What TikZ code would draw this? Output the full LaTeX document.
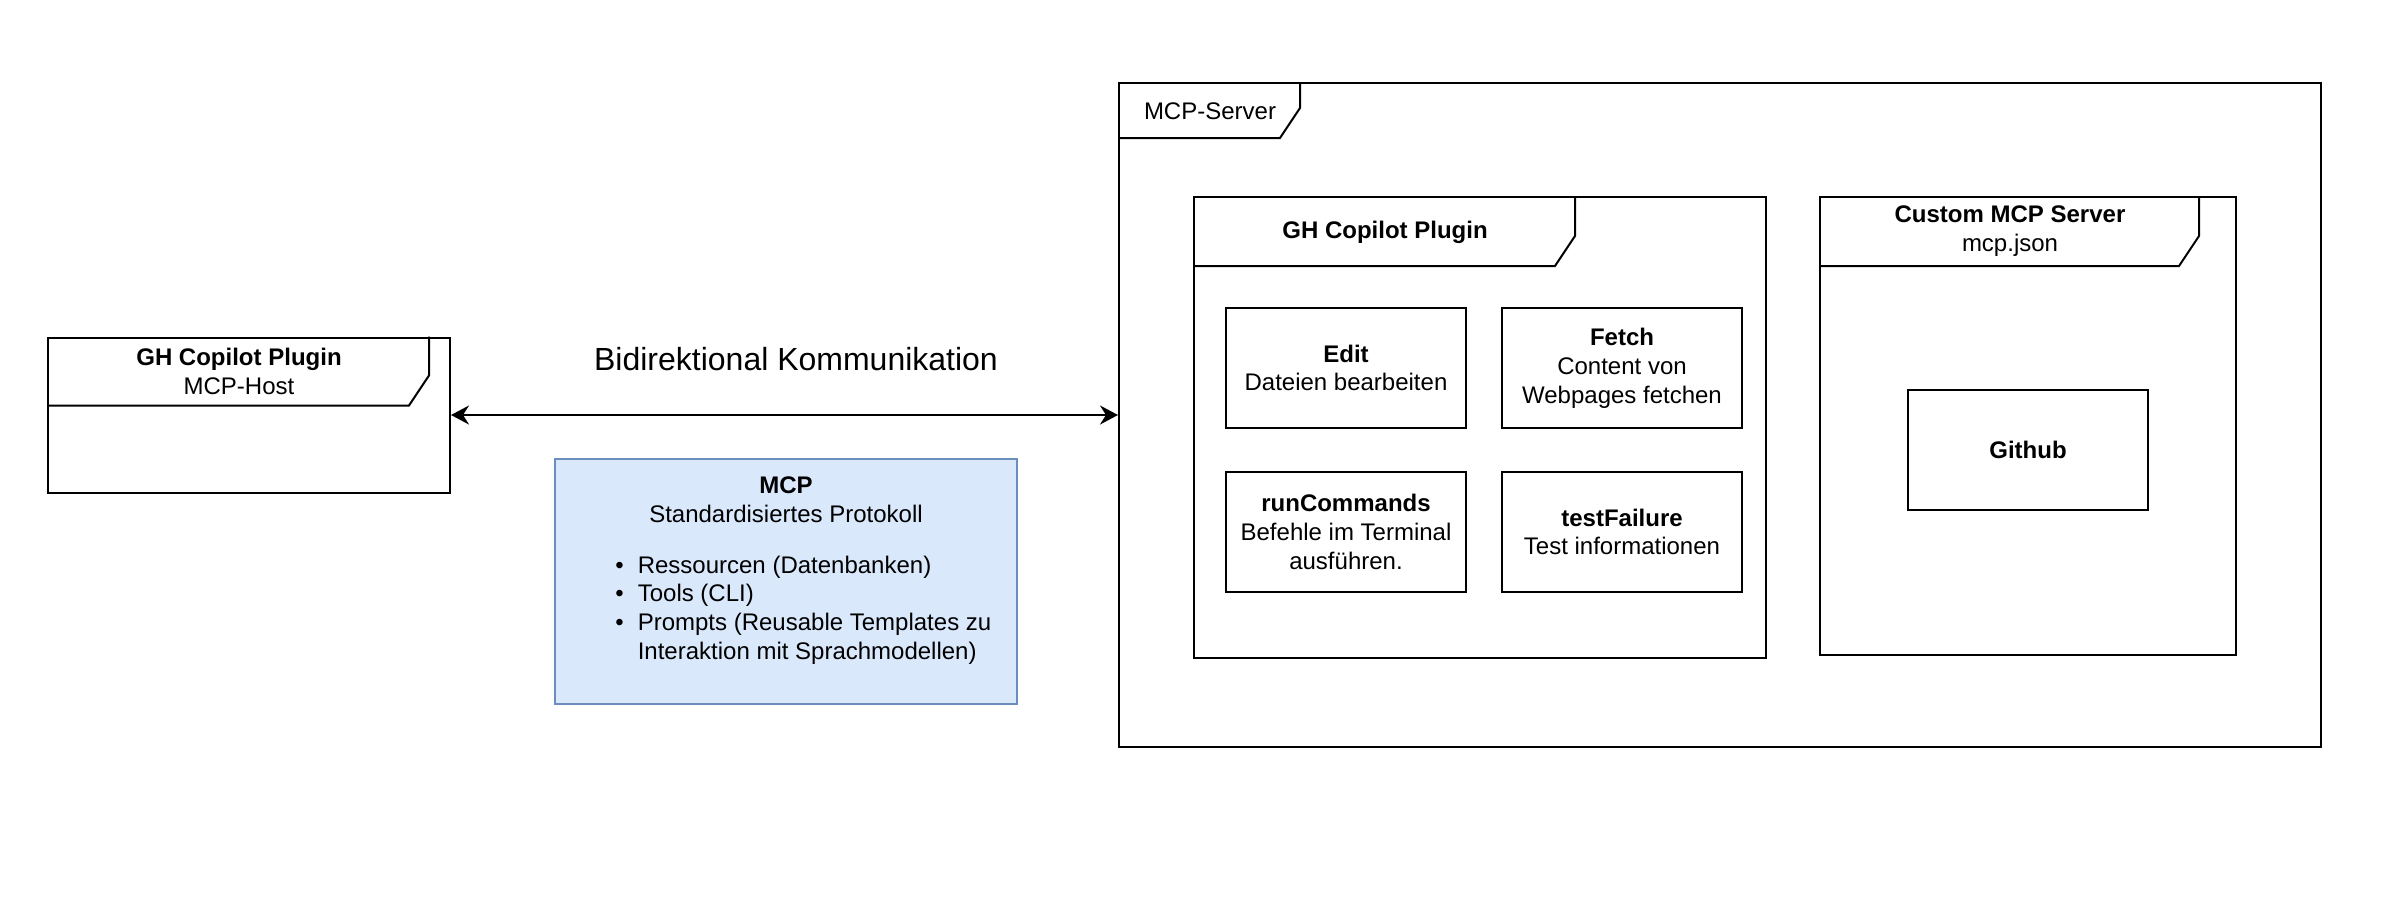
\documentclass[tikz,border=0pt]{standalone}
\usepackage{fontspec}
\setmainfont{Liberation Sans}
\usetikzlibrary{arrows.meta}
\definecolor{mcpfill}{HTML}{DAE8FC}
\definecolor{mcpline}{HTML}{6C8EBF}
\begin{document}
\begin{tikzpicture}[x=0.5pt,y=-0.5pt,font=\fontsize{12}{14.4}\selectfont]
        \tikzstyle{umlframe}=[rectangle,draw=black,line width=1pt,inner sep=0pt]
        \tikzstyle{toolbox}=[rectangle,draw=black,line width=1pt,minimum width=120pt,minimum height=60pt,align=center,inner sep=0pt]
        \tikzstyle{proto}=[rectangle,draw=mcpline,fill=mcpfill,line width=1pt,inner sep=0pt]
        \tikzstyle{tabline}=[draw=black,line width=1pt]
        \tikzstyle{hdtext}=[align=center,inner sep=0pt]
        \tikzstyle{edge}=[draw,line width=1pt,{Stealth[length=9pt,width=9.5pt,inset=3pt]}-{Stealth[length=9pt,width=9.5pt,inset=3pt]}]
       \useasboundingbox (0,0) rectangle (2404,918);

       % host side
       \node [umlframe,minimum width=201pt,minimum height=77.5pt] (host) at (249,415) {};
       \draw [tabline] (host.north west) ++(0,69) -- ++(362,0) -- ++(20,-30) -- ++(0,-39);
       \node [hdtext] (hosthd) at (239,371.5) {\textbf{GH Copilot Plugin}\\MCP-Host};

       % server side
       \node [umlframe,minimum width=601pt,minimum height=332pt] (server) at (1720,415) {};
       \draw [tabline] (server.north west) ++(0,56) -- ++(162,0) -- ++(20,-30) -- ++(0,-26);
       \node [hdtext] (serverhd) at (1210,111) {MCP-Server};

       \node [umlframe,minimum width=286pt,minimum height=230.5pt] (plugin) at (1480,427.5) {};
       \draw [tabline] (plugin.north west) ++(0,70) -- ++(362,0) -- ++(20,-30) -- ++(0,-40);
       \node [hdtext] (pluginhd) at (1385,232) {\textbf{GH Copilot Plugin}};

       \node [toolbox] (edit) at (1346,368) {\textbf{Edit}\\Dateien bearbeiten};
       \node [toolbox] (fetch) at (1622,368) {\textbf{Fetch}\\Content von\\Webpages fetchen};
       \node [toolbox] (runcmd) at (1346,532) {\textbf{runCommands}\\Befehle im Terminal\\ausführen.};
       \node [toolbox] (testfail) at (1622,532) {\textbf{testFailure}\\Test informationen};

       \node [umlframe,minimum width=208pt,minimum height=229pt] (custom) at (2028,426) {};
       \draw [tabline] (custom.north west) ++(0,70) -- ++(360,0) -- ++(20,-30) -- ++(0,-40);
       \node [hdtext] (customhd) at (2010,231) {\textbf{Custom MCP Server}\\mcp.json};
       \node [toolbox] (github) at (2028,450) {\textbf{Github}};

       % protocol
       \path [edge] (host) -- (server);
       \node [hdtext,font=\fontsize{16}{19.2}\selectfont] (comm) at (796,359) {Bidirektional Kommunikation};

       \node [proto,minimum width=231pt,minimum height=122.5pt] (mcp) at (786,581.5) {};
       \node [hdtext] (mcphd) at (786,499.5) {\textbf{MCP}\\Standardisiertes Protokoll};
       \node [hdtext,anchor=west] (mcplist) at (615,610.5) {%
         \begin{tabular}{@{}l@{\hspace{7pt}}l@{}}
           \textbullet & Ressourcen (Datenbanken)\\
           \textbullet & Tools (CLI)\\
           \textbullet & Prompts (Reusable Templates zu\\
                       & Interaktion mit Sprachmodellen)
         \end{tabular}};
\end{tikzpicture}
\end{document}
